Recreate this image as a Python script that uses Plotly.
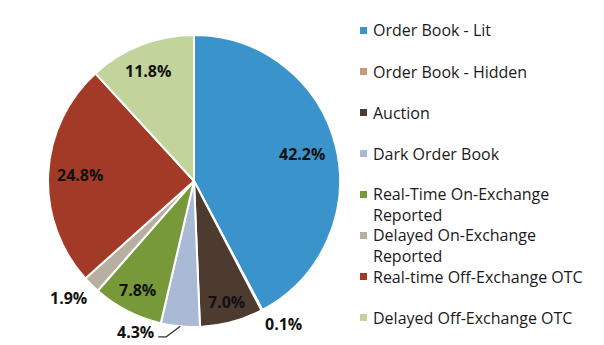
import math
import plotly.graph_objects as go

# Share of trading volume by venue / reporting type (%)
categories = [
    "Order Book - Lit",
    "Order Book - Hidden",
    "Auction",
    "Dark Order Book",
    "Real-Time On-Exchange Reported",
    "Delayed On-Exchange Reported",
    "Real-time Off-Exchange OTC",
    "Delayed Off-Exchange OTC",
]
legend_lines = [
    ["Order Book - Lit"],
    ["Order Book - Hidden"],
    ["Auction"],
    ["Dark Order Book"],
    ["Real-Time On-Exchange", "Reported"],
    ["Delayed On-Exchange", "Reported"],
    ["Real-time Off-Exchange OTC"],
    ["Delayed Off-Exchange OTC"],
]
shares = [42.2, 0.1, 7.0, 4.3, 7.8, 1.9, 24.8, 11.8]

# Styling
colors = ["#3A93CB", "#C49A7A", "#4E3B30", "#A9B9D6",
          "#77993A", "#B7B0A0", "#A33A27", "#C3D39C"]
# label placement per slice: (radius as fraction of pie radius, pixel nudge x, y)
label_place = [
    (0.76, 0, 0),
    (1.15, 11, -6),
    (0.86, 0, 0),
    None,            # drawn with a leader line
    (0.84, 0, 0),
    (1.175, -5, -5),
    (0.78, 0, 0),
    (0.81, -3, 0),
]

W, H = 604, 345
FONT = "Open Sans, Noto Sans, sans-serif"
CX, CY, R = 194, 181, 146          # pie centre and radius in pixels
LEGEND_SIZE = 16
LINE_H = LEGEND_SIZE * 1.3         # plotly's multi-line text spacing


def px(x, y):
    """Pixel position -> paper coordinates."""
    return x / W, 1 - y / H


fig = go.Figure(go.Pie(
    labels=categories,
    values=shares,
    sort=False,
    direction="clockwise",
    rotation=0,
    marker=dict(colors=colors, line=dict(color="white", width=2)),
    textinfo="none",
    domain=dict(x=[(CX - R) / W, (CX + R) / W],
                y=[1 - (CY + R) / H, 1 - (CY - R) / H]),
    showlegend=False,
    hovertemplate="%{label}: %{value:.1f}%<extra></extra>",
))

annotations, shapes = [], []
label_font = dict(family=FONT, size=16, color="#111111")

# Percentage labels, placed at each slice's mid angle
total = sum(shares)
cum = 0.0
for val, place in zip(shares, label_place):
    mid = (cum + val / 2) / total * 2 * math.pi
    cum += val
    txt = f"<b>{val:.1f}%</b>"
    if place is None:
        # leader line from the slice edge down-left to the label
        ex, ey = CX + R * math.sin(mid), CY - R * math.cos(mid)
        pts = [(ex, ey), (ex - 14, ey + 10.5), (ex - 22, ey + 10.5)]
        path = "M " + " L ".join(f"{px(a, b)[0]},{px(a, b)[1]}" for a, b in pts)
        shapes.append(dict(type="path", xref="paper", yref="paper", path=path,
                           line=dict(color="#333333", width=1.2)))
        lx, ly = px(ex - 24, ey + 5.5)
        annotations.append(dict(xref="paper", yref="paper", x=lx, y=ly,
                                xanchor="right", yanchor="middle", text=txt,
                                showarrow=False, font=label_font))
        continue
    frac, nx, ny = place
    lx, ly = px(CX + frac * R * math.sin(mid) + nx,
                CY - frac * R * math.cos(mid) + ny)
    annotations.append(dict(xref="paper", yref="paper", x=lx, y=ly,
                            xanchor="center", yanchor="middle", text=txt,
                            showarrow=False, font=label_font))

# Legend: coloured squares with labels to the right of the pie
row0, step = 30.5, 41
for i, (lines, col) in enumerate(zip(legend_lines, colors)):
    y = row0 + i * step
    x0, y0 = px(360, y + 3.5)
    x1, y1 = px(367, y - 3.5)
    shapes.append(dict(type="rect", xref="paper", yref="paper",
                       x0=x0, x1=x1, y0=y0, y1=y1,
                       fillcolor=col, line=dict(width=0)))
    tx, ty = px(371, y + (len(lines) - 1) * LINE_H / 2)
    annotations.append(dict(xref="paper", yref="paper", x=tx, y=ty,
                            xanchor="left", yanchor="middle", align="left",
                            text="<br>".join(lines), showarrow=False,
                            font=dict(family=FONT, size=LEGEND_SIZE,
                                      color="#1a1a1a")))

fig.update_layout(
    width=W, height=H,
    margin=dict(l=0, r=0, t=0, b=0),
    paper_bgcolor="white",
    plot_bgcolor="white",
    shapes=shapes,
    annotations=annotations,
)

fig.write_html("out.html")
